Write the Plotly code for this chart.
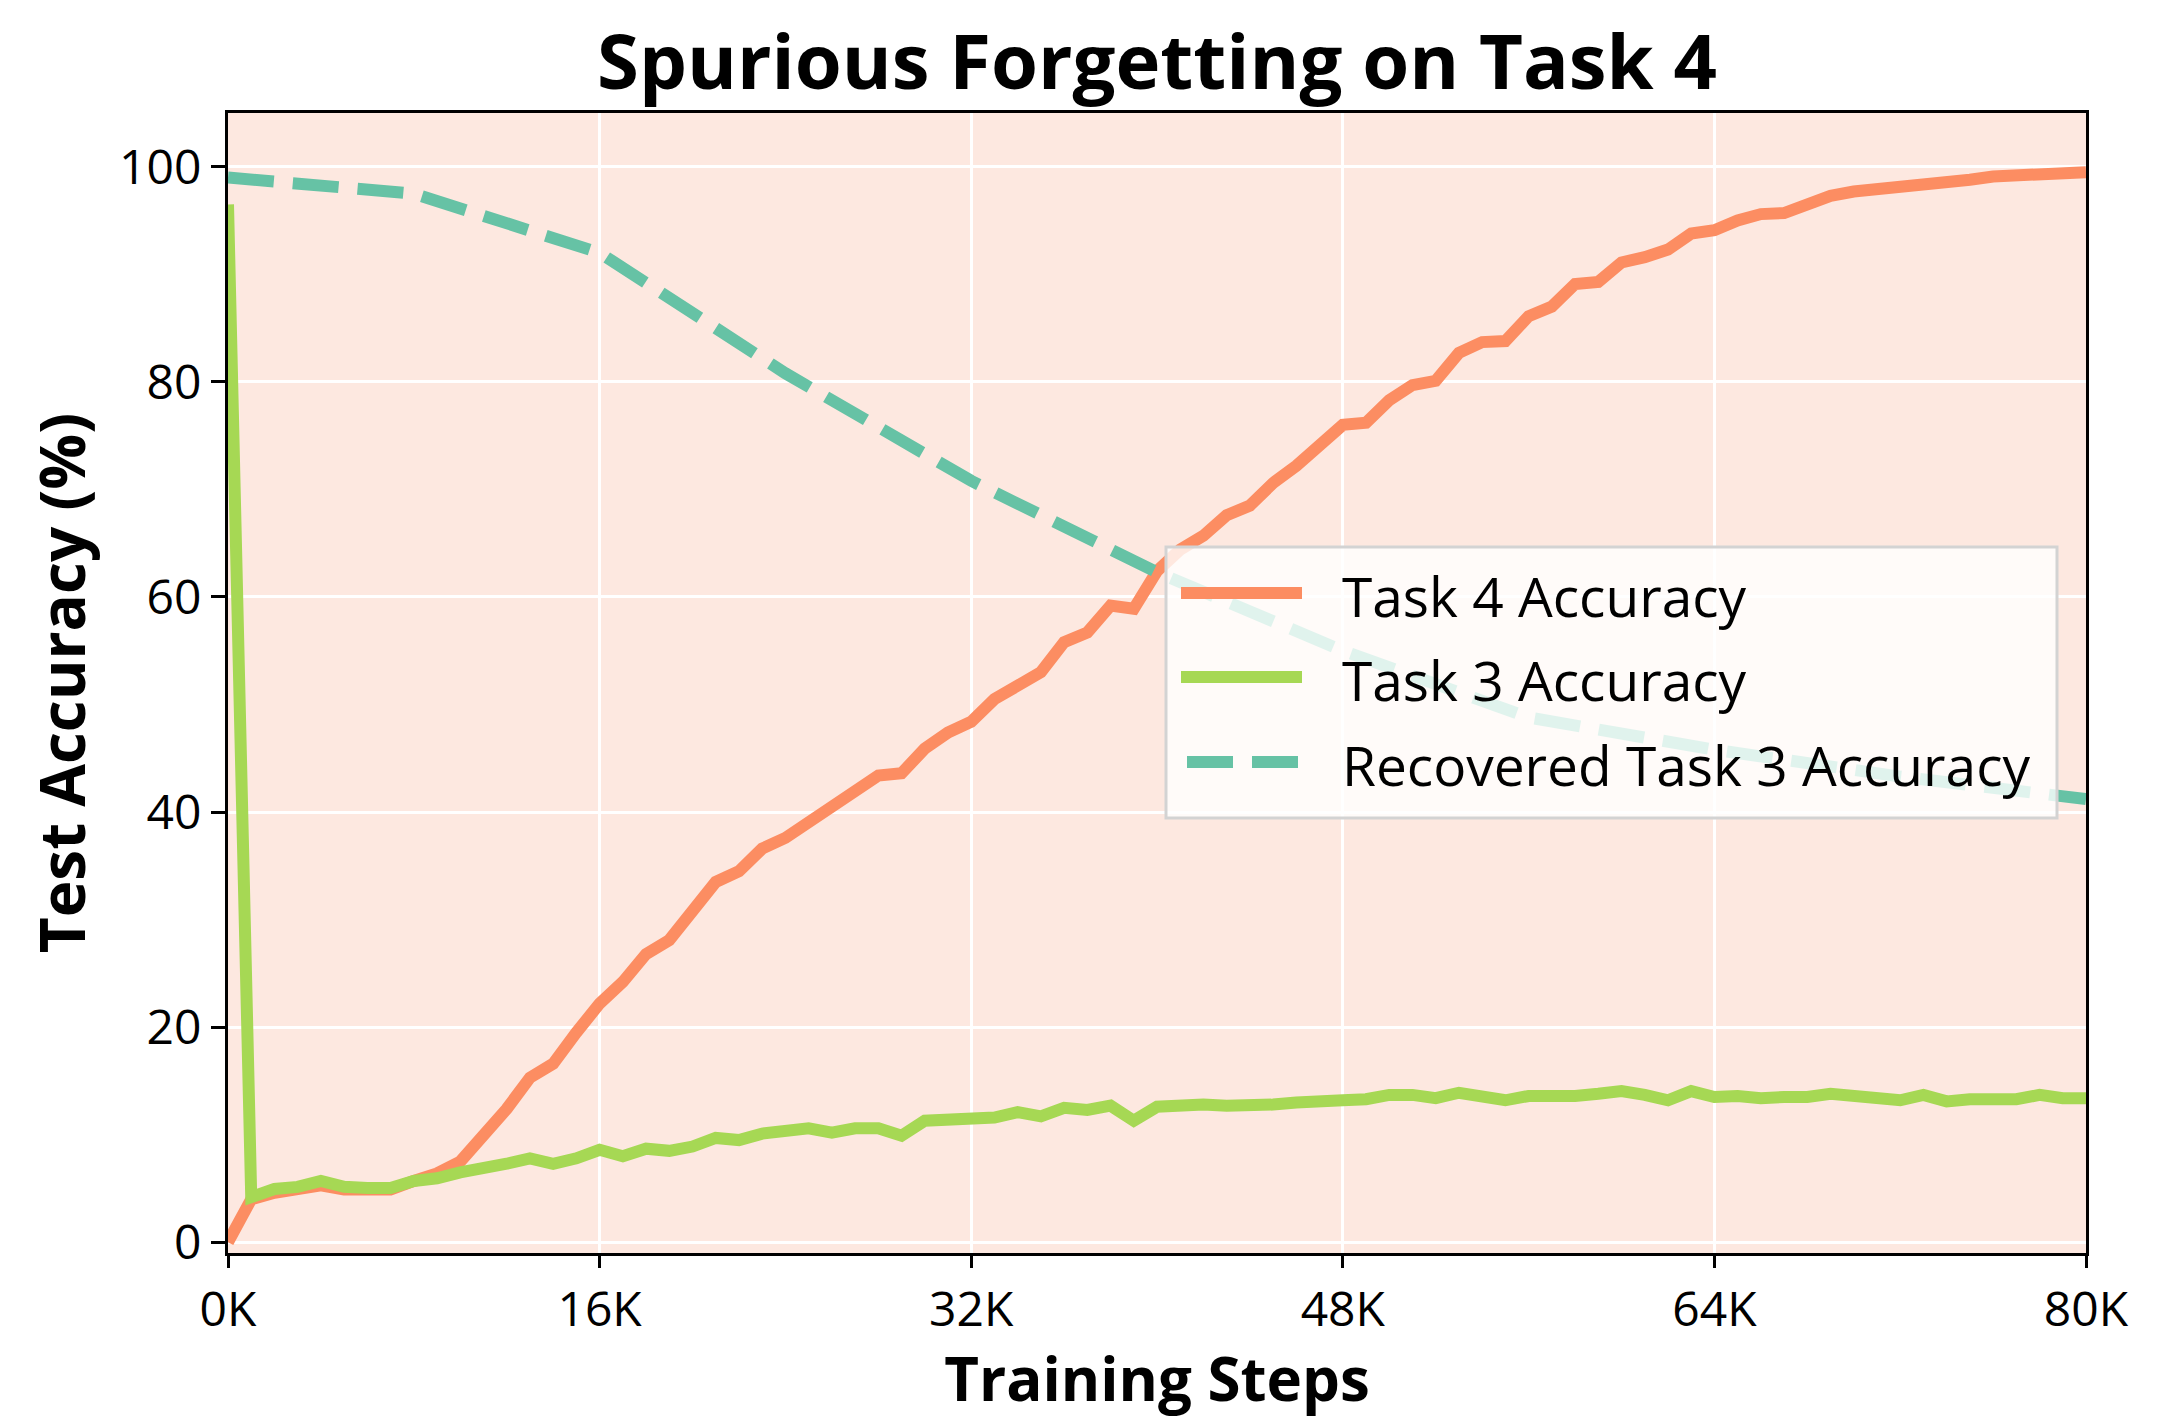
import plotly.graph_objects as go

# ---------------- data ----------------
steps = list(range(0, 80001, 1000))

task4_acc = [0.0, 4.0, 4.6, 4.9, 5.3, 4.9, 4.8, 4.9, 5.7, 6.4,
             7.5, 9.9, 12.4, 15.3, 16.6, 19.5, 22.2, 24.2, 26.8, 28.1,
             30.6, 33.5, 34.5, 36.6, 37.6, 39.1, 40.4, 41.8, 43.4, 43.6,
             45.9, 47.4, 48.4, 50.5, 51.9, 53.0, 55.8, 56.7, 59.2, 58.9,
             62.4, 64.4, 65.7, 67.6, 68.5, 70.6, 72.2, 74.0, 76.0, 76.2,
             78.3, 79.7, 80.1, 82.7, 83.7, 83.8, 86.1, 87.0, 89.1, 89.3,
             91.1, 91.6, 92.3, 93.8, 94.1, 95.0, 95.6, 95.7, 96.5, 97.3,
             97.7, 97.9, 98.0, 98.4, 98.5, 98.8, 99.1, 99.2, 99.4, 99.5,
             99.5]

task3_acc = [96.5, 4.2, 4.95, 5.15, 5.7, 5.15, 5.05, 5.05, 5.7, 5.95,
             6.5, 6.8, 7.3, 7.8, 7.3, 7.8, 8.6, 8.0, 8.7, 8.5,
             8.9, 9.7, 9.5, 10.1, 10.3, 10.6, 10.2, 10.6, 10.6, 9.9,
             11.3, 11.4, 11.3, 11.6, 12.1, 11.7, 12.5, 12.3, 12.7, 11.3,
             12.6, 12.8, 12.8, 12.7, 12.7, 12.8, 13.0, 13.2, 13.2, 13.3,
             13.7, 13.7, 13.4, 13.9, 13.6, 13.2, 13.6, 13.5, 13.6, 13.8,
             14.05, 13.7, 13.2, 14.05, 13.5, 13.6, 13.4, 13.5, 13.5, 13.8,
             13.6, 13.6, 13.2, 13.7, 13.1, 13.3, 13.3, 13.3, 13.7, 13.4,
             13.4]

recovered_steps = [0, 8000, 16000, 24000, 32000, 40000, 48000, 56000, 64000, 72000, 80000]
recovered_acc = [99.0, 97.5, 92.0, 80.8, 70.8, 62.3, 55.0, 48.8, 45.8, 43.3, 41.2]

tick_vals = [0, 16000, 32000, 48000, 64000, 80000]
tick_text = ["0K", "16K", "32K", "48K", "64K", "80K"]
y_ticks = [0, 20, 40, 60, 80, 100]

series_names = ["Task 4 Accuracy", "Task 3 Accuracy", "Recovered Task 3 Accuracy"]

# ---------------- style ----------------
FONT = "Open Sans, Lato, DejaVu Sans, sans-serif"
C_ORANGE = "#fc8d62"
C_GREEN = "#a6d854"
C_TEAL = "#66c2a5"
BG = "#fde8e0"
DASH = "46px,19px"
LW = 12

W, H = 2163, 1419
ML, MR, MT, MB = 228, 77, 113, 166

fig = go.Figure()
fig.add_trace(go.Scatter(x=steps, y=task4_acc, mode="lines", name=series_names[0],
                         line=dict(color=C_ORANGE, width=LW), showlegend=False))
fig.add_trace(go.Scatter(x=steps, y=task3_acc, mode="lines", name=series_names[1],
                         line=dict(color=C_GREEN, width=LW), showlegend=False))
fig.add_trace(go.Scatter(x=recovered_steps, y=recovered_acc, mode="lines", name=series_names[2],
                         line=dict(color=C_TEAL, width=LW, dash=DASH), showlegend=False))

# ---------------- custom legend (matplotlib-like) ----------------
pw = W - ML - MR
ph = H - MT - MB


def px_x(X):
    return (X - ML) / pw


def px_y(Y):
    return (H - MB - Y) / ph


box = dict(x0=px_x(1166), x1=px_x(2057), y0=px_y(818), y1=px_y(547))
fig.add_shape(type="rect", xref="paper", yref="paper", layer="above",
              fillcolor="rgba(255,255,255,0.8)",
              line=dict(color="#d3d3d3", width=3), **box)

legend_rows_y = [593, 677, 762]
legend_colors = [C_ORANGE, C_GREEN, C_TEAL]
legend_dashes = ["solid", "solid", DASH]
legend_x0 = [1181, 1181, 1187]
for name, yy, col, dsh, x0 in zip(series_names, legend_rows_y, legend_colors, legend_dashes, legend_x0):
    fig.add_shape(type="line", xref="paper", yref="paper", layer="above",
                  x0=px_x(x0), x1=px_x(1302), y0=px_y(yy), y1=px_y(yy),
                  line=dict(color=col, width=LW, dash=dsh))
    fig.add_annotation(xref="paper", yref="paper", x=px_x(1340), y=px_y(yy + 2),
                       xanchor="left", yanchor="middle", showarrow=False,
                       text=name, font=dict(family=FONT, size=55, color="black"))

fig.update_layout(
    width=W, height=H,
    margin=dict(l=ML, r=MR, t=MT, b=MB),
    paper_bgcolor="white",
    plot_bgcolor=BG,
    font=dict(family=FONT, color="black"),
    title=dict(text="<b>Spurious Forgetting on Task 4</b>",
               font=dict(family=FONT, size=76, color="black"),
               x=(ML + pw / 2) / W, xanchor="center",
               y=1 - 62 / H, yanchor="middle", yref="container"),
)

fig.update_xaxes(
    range=[0, 80000], tickvals=tick_vals, ticktext=tick_text,
    tickfont=dict(family=FONT, size=48, color="black"),
    ticks="outside", ticklen=12, tickwidth=3, tickcolor="black",
    showline=True, linewidth=3, linecolor="black", mirror=True,
    showgrid=True, gridcolor="white", gridwidth=3, zeroline=False,
    title=dict(text="<b>Training Steps</b>", font=dict(family=FONT, size=60, color="black"),
               standoff=24),
)
fig.update_yaxes(
    range=[-1, 105], tickvals=y_ticks,
    tickfont=dict(family=FONT, size=48, color="black"),
    ticks="outside", ticklen=14, tickwidth=3, tickcolor="black",
    showline=True, linewidth=3, linecolor="black", mirror=True,
    showgrid=True, gridcolor="white", gridwidth=3, zeroline=False,
    title=dict(text="<b>Test Accuracy (%)</b>", font=dict(family=FONT, size=62, color="black"),
               standoff=14),
)

fig.write_html("out.html")
